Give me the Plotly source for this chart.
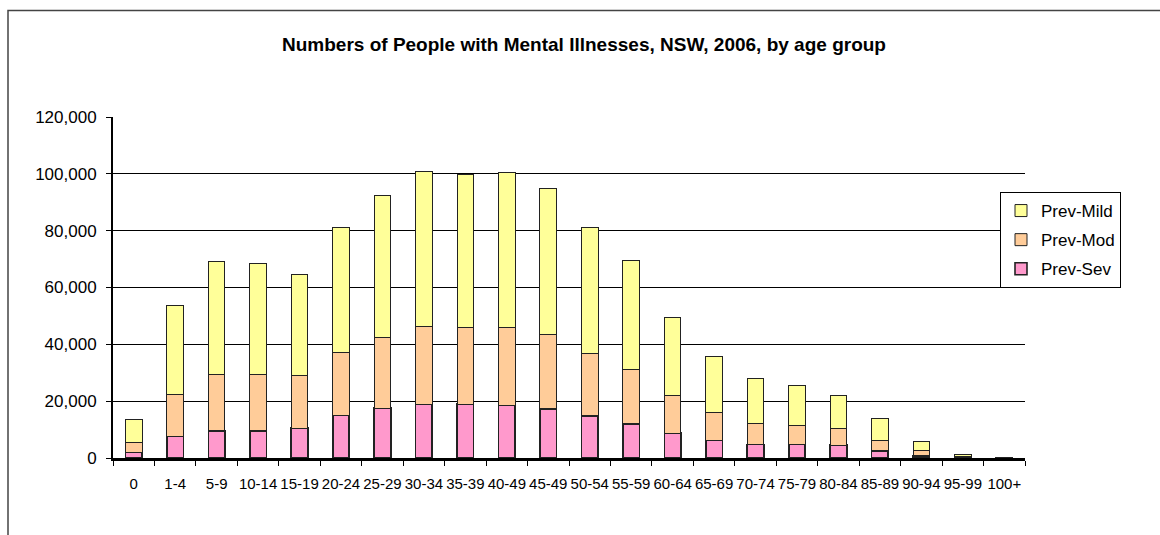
import plotly.graph_objects as go

age_groups = ["0", "1-4", "5-9", "10-14", "15-19", "20-24", "25-29", "30-34",
              "35-39", "40-49", "45-49", "50-54", "55-59", "60-64", "65-69",
              "70-74", "75-79", "80-84", "85-89", "90-94", "95-99", "100+"]
prev_sev = [1900, 7500, 9600, 9600, 10500, 14900, 17500, 19000, 19000, 18600, 17300,
            14800, 12000, 8700, 6100, 4800, 4800, 4500, 2500, 800, 200, 30]
prev_mod = [3600, 15000, 19800, 19800, 18400, 22400, 24900, 27300, 27000, 27400, 26100,
            22100, 19300, 13300, 9800, 7500, 6600, 5800, 3800, 2000, 300, 60]
prev_mild = [7900, 31100, 39600, 39100, 35800, 43900, 50100, 54600, 53900, 54400, 51400,
             44300, 38200, 27400, 19800, 15700, 14000, 11700, 7500, 3100, 560, 60]
y_ticks = [0, 20000, 40000, 60000, 80000, 100000, 120000]

W, H = 1160, 535
L, R, T, B = 113, 1025, 117, 458
FONT = "Liberation Sans, Arial, sans-serif"

fig = go.Figure()
# stacked bottom-up: severe, moderate, mild; legend lists mild first
series = [("Prev-Sev", prev_sev, "#FF99CC", 1.6, 3),
          ("Prev-Mod", prev_mod, "#FFCC99", 1.0, 2),
          ("Prev-Mild", prev_mild, "#FFFF99", 1.0, 1)]
for name, vals, color, lw, rank in series:
    fig.add_trace(go.Bar(
        x=age_groups, y=vals, name=name, legendgroup=name, legendrank=rank,
        marker=dict(color=color, line=dict(color="#222222", width=lw)),
    ))

def px_x(p):
    return (p - L) / (R - L)

def px_y(p):
    return (B - p) / (B - T)

fig.update_layout(
    width=W, height=H,
    margin=dict(l=L, r=W - R, t=T, b=H - B),
    barmode="stack", bargap=0.6,
    plot_bgcolor="white", paper_bgcolor="white",
    font=dict(family=FONT, size=15, color="black"),
    title=dict(text="<b>Numbers of People with Mental Illnesses, NSW, 2006, by age group</b>",
               x=584 / W, xanchor="center", y=1 - 44 / H, yanchor="middle",
               font=dict(family=FONT, size=19, color="black")),
    xaxis=dict(type="category", tickangle=0, showgrid=False,
               showline=True, linecolor="black", linewidth=2.5,
               ticks="outside", tickson="boundaries", ticklen=5, tickcolor="black",
               tickfont=dict(size=15), ticklabelstandoff=10),
    yaxis=dict(range=[0, 120000], tickvals=y_ticks, tickformat=",d",
               showgrid=True, gridcolor="black", gridwidth=1,
               showline=True, linecolor="black", linewidth=2,
               ticks="outside", ticklen=5, tickcolor="black",
               tickfont=dict(size=17), ticklabelstandoff=6, zeroline=False),
    legend=dict(x=px_x(1000), y=px_y(192), xanchor="left", yanchor="top",
                traceorder="grouped", tracegroupgap=4,
                bordercolor="black", borderwidth=1, bgcolor="white",
                font=dict(size=17), itemwidth=30),
    shapes=[dict(type="rect", xref="paper", yref="paper",
                 x0=px_x(8), y0=px_y(560), x1=px_x(1180), y1=px_y(10.5),
                 line=dict(color="#444444", width=1.5), layer="below")],
)

fig.write_html("out.html")
